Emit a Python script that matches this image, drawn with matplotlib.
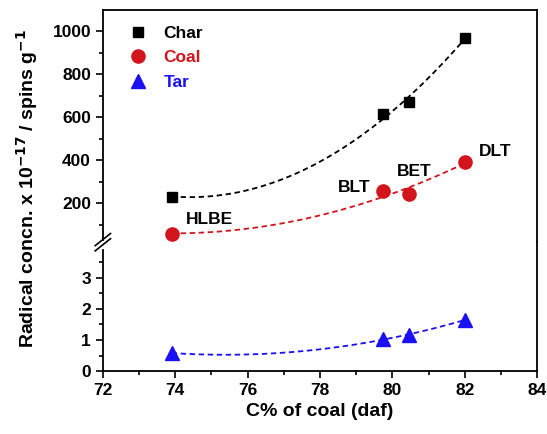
import numpy as np
import matplotlib.pyplot as plt
from matplotlib.lines import Line2D

plt.rcParams['font.family'] = ['Liberation Sans', 'DejaVu Sans']
plt.rcParams['font.weight'] = 'bold'
plt.rcParams['mathtext.default'] = 'bf'

# data
carbon = [73.9, 79.75, 80.45, 82.0]
char = [232, 614, 670, 972]
coal = [60, 256, 242, 395]
tar = [0.58, 1.03, 1.16, 1.65]
coal_names = ["HLBE", "BLT", "BET", "DLT"]

red = '#d2141c'
blue = '#1a10f5'

fig = plt.figure(figsize=(5.47, 4.34), dpi=100)
L, R, T, B, BRK = 0.188, 0.982, 0.977, 0.145, 0.442
ax_top = fig.add_axes([L, BRK, R - L, T - BRK])
ax_bot = fig.add_axes([L, B, R - L, BRK - B])

xs = np.linspace(min(carbon), max(carbon), 200)

def fit(vals):
    p = np.polyfit(carbon, vals, 2)
    return np.polyval(p, xs)

ax_top.plot(xs, fit(char), '--', color='black', lw=1.3, dashes=(3, 2))
ax_top.plot(xs, fit(coal), '--', color=red, lw=1.3, dashes=(3, 2))
ax_top.plot(carbon, char, 's', color='black', ms=7.5, label='Char')
ax_top.plot(carbon, coal, 'o', color=red, ms=9.5, label='Coal')
ax_bot.plot(xs, fit(tar), '--', color=blue, lw=1.3, dashes=(3, 2))
ax_bot.plot(carbon, tar, '^', color=blue, ms=10, label='Tar')

# sample labels
ax_top.text(74.3, 125, coal_names[0], fontsize=12.5, fontweight='bold', va='center')
ax_top.text(79.4, 275, coal_names[1], fontsize=12.5, fontweight='bold', va='center', ha='right')
ax_top.text(80.6, 350, coal_names[2], fontsize=12.5, fontweight='bold', va='center', ha='center')
ax_top.text(82.4, 440, coal_names[3], fontsize=12.5, fontweight='bold', va='center')

for ax in (ax_top, ax_bot):
    ax.set_xlim(72, 84)
    ax.tick_params(axis='y', which='both', direction='out', labelsize=12.5, width=1.2)
    ax.tick_params(axis='y', which='major', length=5)
    ax.tick_params(axis='y', which='minor', length=3)
    for s in ax.spines.values():
        s.set_linewidth(1.3)

ax_top.set_ylim(20, 1100)
ax_top.set_yticks([200, 400, 600, 800, 1000])
ax_top.set_yticks([100, 300, 500, 700, 900], minor=True)
ax_top.spines['bottom'].set_visible(False)
ax_top.spines['left'].set_bounds(32, 1100)
ax_top.set_xticks([])

ax_bot.set_ylim(0, 4.15)
ax_bot.set_yticks([0, 1, 2, 3])
ax_bot.set_yticks([0.5, 1.5, 2.5, 3.5], minor=True)
ax_bot.spines['top'].set_visible(False)
ax_bot.spines['left'].set_bounds(0, 3.9)
ax_bot.set_xticks(range(72, 85, 2))
ax_bot.set_xticks(range(73, 84, 2), minor=True)
ax_bot.set_xticklabels([str(v) for v in range(72, 85, 2)])
ax_bot.tick_params(axis='x', which='both', direction='out', labelsize=12.5, width=1.2)
ax_bot.tick_params(axis='x', which='major', length=5)
ax_bot.tick_params(axis='x', which='minor', length=3)
ax_bot.set_xlabel('C% of coal (daf)', fontsize=14, fontweight='bold')

# break marks on the left spine
for dy in (-0.006, 0.006):
    fig.add_artist(Line2D([L - 0.014, L + 0.014], [BRK + dy - 0.014, BRK + dy + 0.014],
                          color='black', lw=1.2))

# legend
h1, l1 = ax_top.get_legend_handles_labels()
h2, l2 = ax_bot.get_legend_handles_labels()
leg = ax_top.legend(h1 + h2, l1 + l2, loc='upper left', frameon=False, fontsize=12.5,
                    handlelength=1.2, handletextpad=0.9, labelspacing=0.55,
                    borderaxespad=0.5, bbox_to_anchor=(0.02, 1.0))
for txt, c in zip(leg.get_texts(), ['black', red, blue]):
    txt.set_color(c)
    txt.set_fontweight('bold')

fig.text(0.05, (T + B) / 2 + 0.005, r'Radical concn. x 10$^{-17}$ / spins g$^{-1}$',
         rotation=90, va='center', ha='center', fontsize=14, fontweight='bold')

fig.savefig('out.png', dpi=100)
